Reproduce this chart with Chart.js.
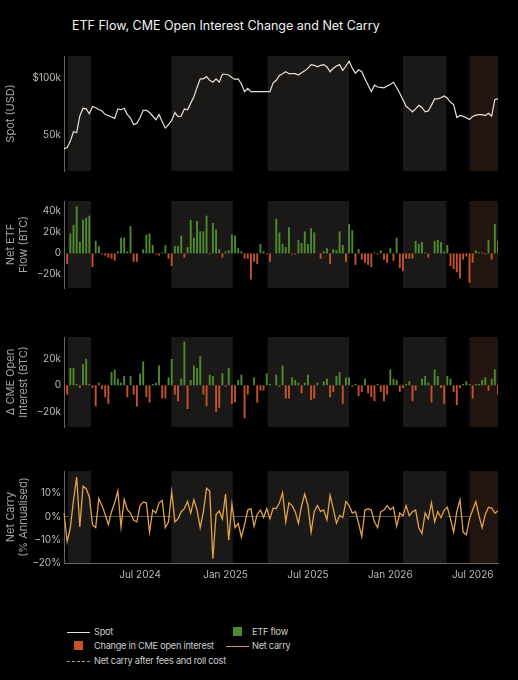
<!DOCTYPE html>
<html><head><meta charset="utf-8">
<script src="https://cdn.jsdelivr.net/npm/chart.js@4"></script>
<style>
body{margin:0;background:#000;width:518px;height:680px;overflow:hidden;font-family:Inter,"Liberation Sans",sans-serif;position:relative}
canvas{position:absolute;left:0}
#title{position:absolute;left:72px;top:18px;color:#f0f0f0;font-size:12.5px}
.t{position:absolute;color:#ccc;font-size:9.2px;letter-spacing:-0.25px;line-height:12px;white-space:nowrap}
.s{position:absolute}
</style></head><body>
<div id="title">ETF Flow, CME Open Interest Change and Net Carry</div>
<canvas id="c1"></canvas><canvas id="c2"></canvas><canvas id="c3"></canvas><canvas id="c4"></canvas>
<div class="s" style="left:67px;top:632px;width:23px;border-top:1.3px solid #e8e2d6"></div><div class="t" style="left:94px;top:626px">Spot</div>
<div class="s" style="left:74px;top:641px;width:9px;height:9px;background:#c4532c"></div><div class="t" style="left:94px;top:640px">Change in CME open interest</div>
<div class="s" style="left:67px;top:661px;width:23px;border-top:1.3px dashed #999"></div><div class="t" style="left:94px;top:655px">Net carry after fees and roll cost</div>
<div class="s" style="left:233px;top:627px;width:9px;height:9px;background:#4e8a2e"></div><div class="t" style="left:252px;top:626px">ETF flow</div>
<div class="s" style="left:226px;top:646px;width:23px;border-top:1.3px solid #d4935a"></div><div class="t" style="left:252px;top:640px">Net carry</div>
<script>
const startDate = '2024-01-15';
const spot = [42.5,43.2,46.7,52.3,51.8,63.3,69.5,69,65,71,70,
68.5,67.3,64.4,63.7,62.5,61.5,69,68.3,69.5,64.4,
61.8,57,58,62,67.8,67.8,66,63.3,60.5,64.4,59,
54.7,57,60,66,62.8,63.3,69,68.3,74,80,
89.5,99.3,99.3,102,97.6,95.3,99.3,95.3,105,105,104,
101,98.6,99.3,93.3,85,88.6,85,85,85,85,
85,85,85,94.3,97.6,103.5,105.7,108.3,105.7,105.7,105.7,
104,107,109.4,113,118,117,115,117,118,114.8,
108.3,112.9,116,118,110,116,123,113,106.4,110.9,108.3,
99.3,92,85,92,90,89.5,89,91,92.7,95.3,
89.5,83.5,77,71.2,69,66.6,69,72,70.2,66.6,
67.3,72.2,77.9,77.9,79,80.7,78.5,74.7,72.7,62.2,
63.7,63,62,60.7,63,64,64.4,64.4,63.7,65.5,63.3,
77.4,77.9];
const etfFlow = [7,-10,19,27,45,11,32,34,36,-13,
12,7,-1,-2,-4,-5,-7,2,15,15,
2,26,-8,-8,0,4,18,19,8,-1,
-2,1,8,-5,-12,7,7,17,-4,6,
32,15,31,21,21,36,-1,29,23,4,
-4,2,3,18,17,5,2,-5,-5,-25,
-8,-10,9,2,-1,-8,0,33,20,9,6,
25,-1,-1,13,10,21,9,24,20,0,
-5,2,5,-10,4,3,21,8,-8,28,
22,-11,4,-6,-9,-11,-13,1,-1,3,
-6,-9,5,-7,15,-14,-17,-5,-5,-5,
12,9,11,1,-4,0,12,13,11,2,
8,-12,-15,-18,-24,-6,-3,-28,-9,3,
1,1,-1,13,-6,28,12];
const cmeOI = [-6,-7,13,13,1,-2,16,20,1,-2,
-16,2,-3,-9,-14,10,12,5,2,7,
-9,7,-7,-16,9,18,-9,-13,1,2,
15,-10,-10,6,20,-7,-12,5,33,-18,
4,15,13,22,-7,-16,8,7,-20,-17,
9,-1,13,-14,-13,4,8,-25,-7,0,
6,-13,-4,-4,9,1,0,8,-1,15,
-10,-10,6,4,2,-6,2,8,-11,-10,2,
0,3,5,-9,-5,7,10,-14,6,6,
-1,1,-8,-5,5,-6,-9,-12,1,-5,
-12,-7,12,5,4,-5,-2,1,3,-12,
-4,0,5,7,2,-13,12,7,-2,-14,
7,5,-5,-15,-2,1,3,1,-10,1,
1,4,6,-4,5,12,-7];
const netCarry = [1.5,-10.8,-4.8,7,17,-4.5,13,12,8.4,-3.5,
-4.8,7.8,4.7,0.9,-3.5,2.1,5.9,11,-4.5,7.4,3.0,
1.5,-1.6,-2.3,4.7,6.2,5.9,-6.7,2.8,1.5,5.9,
6.9,-4.8,-2.3,10.7,-2.3,-1,2.1,3.4,6.5,1.5,
7.2,2.8,-4.8,2.1,12.2,11,-18.2,0.9,2.4,-1,
9.7,-10.2,5.3,-4.8,-2.9,-8.9,-3.5,2.8,3.4,-4.2,1.0,
2.8,-0.4,3.4,-1,3.6,3.4,5.9,10.3,-2.3,5.9,
4.7,2.1,-2.9,4.7,9.7,4.7,-6.7,2.1,4.7,2.1,
2.8,-1.4,9.1,3.4,-2.9,0.5,-0.4,6.5,4.7,1.5,2.1,
-2.9,-8.6,2.8,3.4,2.8,-2.3,-4.8,2.1,2.8,4.7,3.0,
4,-4.2,1.5,0.3,4.7,0.3,2.1,2.8,-4.8,-7.3,
1.5,-1,5.9,-2.3,2.1,-0.5,2.8,4,-1,-6.7,2.1,
7.2,-6.7,-7.9,-1,2.8,6.5,0.3,-4.8,1.0,4,3.6,
1.5,2.4];
// shaded regimes [startWeek, endWeek, kind]
const bandStart = [1.3, 33.9, 64.3, 107, 128];
const bandEnd   = [8.5, 53.3, 90, 120.7, 137.5];
const bandKind  = ['grey','grey','grey','grey','red'];
const spotTicks = [50, 100];
const etfTicks = [-20, 0, 20, 40];
const cmeTicks = [-20, 0, 20];
const carryTicks = [-20, -10, 0, 10];

const N = etfFlow.length;
const labels = [];
const d0 = new Date(startDate+'T00:00:00Z');
for (let i=0;i<N;i++){const d=new Date(d0.getTime()+i*7*864e5);labels.push(d);}
const mon=['Jan','Feb','Mar','Apr','May','Jun','Jul','Aug','Sep','Oct','Nov','Dec'];
function xLabel(i){const d=labels[i];if(!d)return '';const m=d.getUTCMonth();if((m===0||m===6)&&d.getUTCDate()<=7)return mon[m]+' '+d.getUTCFullYear();return '';}

const bandPlugin={id:'bands',beforeDatasetsDraw(ch){const {ctx,chartArea:a,scales:{x}}=ch;ctx.save();
 for(let k=0;k<bandStart.length;k++){const x1=x.getPixelForValue(bandStart[k]),x2=x.getPixelForValue(bandEnd[k]);
  ctx.fillStyle=bandKind[k]==='red'?'#22140f':'#1b1917';ctx.fillRect(x1,a.top,Math.min(x2,a.right)-x1,a.bottom-a.top);}
 ctx.restore();}};

const TC='#bdb8b0';
const FF='Inter, "Liberation Sans", sans-serif';
function xScale(show){return {type:'category',offset:false,grid:{display:false,drawTicks:false},border:{display:show,color:'#666'},
 ticks:{display:show,autoSkip:false,maxRotation:0,color:TC,font:{size:10,family:FF},padding:6,callback:(v,i)=>xLabel(i)}};}
function yScale(title,ticks,min,max,fmt,type,zeroLine){return {type:type||'linear',min,max,
 afterFit(s){s.width=64;},afterBuildTicks(s){s.ticks=ticks.map(v=>({value:v}));},
 grid:{display:!!zeroLine,drawTicks:false,color:c=>c.tick&&c.tick.value===0?'#555':'transparent'},
 border:{display:true,color:'#666'},
 ticks:{color:TC,font:{size:10,family:FF},padding:3,callback:fmt},
 title:{display:true,text:title,color:'#a8a39c',font:{size:11,family:FF},padding:{bottom:2}}};}

function mk(id,top,h,cfg,showX){const c=document.getElementById(id);c.style.top=top+'px';c.width=518;c.height=h;c.style.width='518px';c.style.height=h+'px';
 cfg.options=Object.assign({responsive:false,animation:false,devicePixelRatio:1,plugins:{legend:{display:false},tooltip:{enabled:false}},
  layout:{padding:{left:0,right:20,top:0,bottom:0}}},cfg.options);cfg.plugins=[bandPlugin];
 cfg.options.scales.x=xScale(showX);return new Chart(c,cfg);}

const kfmt=v=>v===0?'0':(v<0?'−'+(-v):v)+'k';
mk('c1',47,133,{type:'line',data:{labels,datasets:[{data:spot,borderColor:'#e8e2d6',borderWidth:1.2,pointRadius:0,tension:0}]},
 options:{scales:{y:yScale('Spot (USD)',spotTicks,32.5,131,v=>v===100?'$100k':v+'k','logarithmic')}}},false);
const barDs=(arr)=>({data:arr,backgroundColor:arr.map(v=>v>=0?'#4e8a2e':'#c4532c'),barPercentage:0.6,categoryPercentage:1});
mk('c2',192,105,{type:'bar',data:{labels,datasets:[barDs(etfFlow)]},
 options:{scales:{y:yScale(['Net ETF','Flow (BTC)'],etfTicks,-33,50,kfmt)}}},false);
mk('c3',328,108,{type:'bar',data:{labels,datasets:[barDs(cmeOI)]},
 options:{scales:{y:yScale(['Δ CME Open','Interest (BTC)'],cmeTicks,-31.6,36.6,kfmt)}}},false);
mk('c4',462,125,{type:'line',data:{labels,datasets:[{data:netCarry,borderColor:'#e0a24a',borderWidth:1.3,pointRadius:0,tension:0}]},
 options:{scales:{y:yScale(['Net Carry','(% Annualised)'],carryTicks,-20,19.6,v=>(v<0?'−'+(-v):v)+'%','linear',true)}}},true);
</script></body></html>
